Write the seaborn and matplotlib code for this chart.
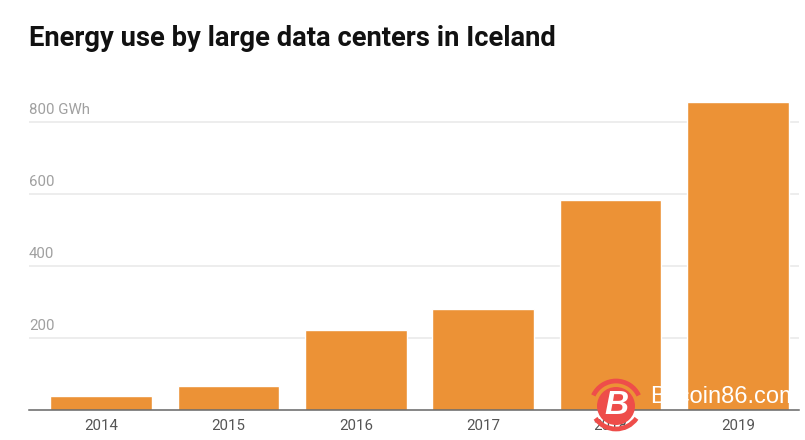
import matplotlib
matplotlib.use('Agg')
import matplotlib.pyplot as plt
from matplotlib.patches import Arc, Circle
import pandas as pd
import seaborn as sns

years = ['2014', '2015', '2016', '2017', '2018', '2019']
gwh = [38, 65, 221, 280, 583, 856]
y_ticks = [200, 400, 600, 800]
y_labels = ['200', '400', '600', '800 GWh']

W, H = 805, 440
sns.set_theme(style='white')
plt.rcParams['font.family'] = ['Roboto', 'DejaVu Sans']

df = pd.DataFrame({'year': years, 'gwh': gwh})

fig = plt.figure(figsize=(W / 100, H / 100), dpi=100, facecolor='white')
# axes box in pixels: left 29, right 799, baseline at y=409.5, top at y=60
ax = fig.add_axes([29 / W, (H - 409.5) / H, 770 / W, 349.5 / H])
sns.barplot(data=df, x='year', y='gwh', color='#EC9236', saturation=1, width=0.797, ax=ax, zorder=3)

ax.set_xlim(-0.565, 5.479)
ax.set_ylim(0, 972)
ax.set_xlabel('')
ax.set_ylabel('')
sns.despine(ax=ax, left=True, top=True, right=True)
ax.spines['bottom'].set_color('#666666')
ax.spines['bottom'].set_linewidth(1.1)
ax.spines['bottom'].set_zorder(4)

ax.set_yticks(y_ticks)
ax.set_yticklabels([])
ax.tick_params(axis='y', length=0)
ax.tick_params(axis='x', length=0, pad=7, labelsize=10.8, labelcolor='#555555')
ax.grid(axis='y', color='#E8E8E8', linewidth=1.1, zorder=0)

# y labels sit above their gridline at the left edge
for v, lab in zip(y_ticks, y_labels):
    ax.annotate(lab, xy=(0, v), xycoords=ax.get_yaxis_transform(), xytext=(0, 3.4),
                textcoords='offset points', ha='left', va='bottom',
                fontsize=10.8, color='#A0A0A0')

fig.text(29 / W, 1 - 45.5 / H, 'Energy use by large data centers in Iceland',
         fontsize=19.75, fontweight='bold', color='#111111', ha='left', va='baseline')

# watermark over the lower right corner, in pixel coords
ov = fig.add_axes([0, 0, 1, 1], facecolor='none')
ov.set_xlim(0, W)
ov.set_ylim(H, 0)
ov.axis('off')
red = '#EE4D4A'
ov.add_patch(Circle((616, 406), 19, color=red, lw=0))
ov.add_patch(Arc((616, 406), 50, 50, theta1=205, theta2=335, color=red, lw=3.4))
ov.add_patch(Arc((616, 404), 50, 50, theta1=35, theta2=145, color=red, lw=3.4))
ov.text(616, 406, 'B', color='white', fontsize=24, fontweight='bold', style='italic',
        family='Liberation Sans', ha='center', va='center')
ov.text(650, 403, 'Bitcoin86.com', color='white', fontsize=17,
        family='Liberation Sans', ha='left', va='baseline')

fig.savefig('out.png', dpi=100)
